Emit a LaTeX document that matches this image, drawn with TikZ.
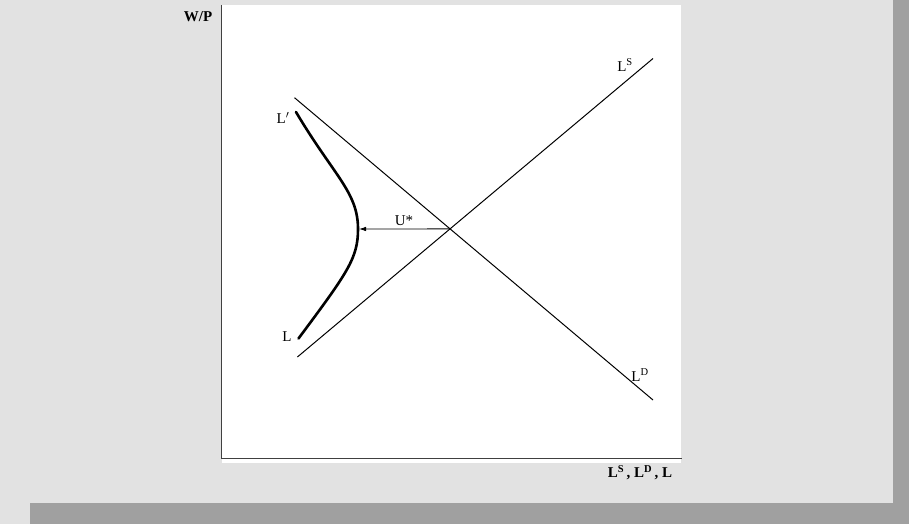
\documentclass[tikz,border=0pt]{standalone}
\usepackage{fontspec}
\setmainfont{Liberation Serif}
\usetikzlibrary{arrows.meta}
\definecolor{scangray}{HTML}{E2E2E2}
\definecolor{edgegray}{HTML}{A0A0A0}
\begin{document}
\begin{tikzpicture}[
  x=1pt, y=-1pt,
  thinline/.style={line width=1pt, black},
  boldline/.style={line width=2.6pt, black, line cap=round},
  axis/.style={line width=0.9pt, black!75},
  lbl/.style={font=\fontsize{15}{17}\selectfont, inner sep=1pt},
  axislbl/.style={font=\fontsize{15}{17}\selectfont\bfseries, inner sep=1pt},
]
\useasboundingbox (0,0) rectangle (909,524);

% scanned page and figure panel
\fill[scangray] (0,0) rectangle (909,524);
\fill[edgegray] (893,0) rectangle (909,524);
\fill[edgegray] (30,503) rectangle (909,524);
\fill[white] (222,5) rectangle (681,463);

% axes
\coordinate (ytop)   at (221,5);
\coordinate (origin) at (221,458);
\coordinate (xend)   at (682,458);
\draw[axis] (ytop) -- (origin) -- (xend);

% supply and demand
\coordinate (ls0) at (297.4,357);
\coordinate (ls1) at (653,58.5);
\coordinate (ld0) at (294.5,97.7);
\coordinate (ld1) at (653,400);
\draw[thinline] (ls0) -- (ls1);
\draw[thinline] (ld0) -- (ld1);
\coordinate (eq) at (intersection of ls0--ls1 and ld0--ld1);

% labour force curve
\coordinate (lp)  at (296,112);
\coordinate (vtx) at (358,229);
\coordinate (lb)  at (298.5,338.5);
\draw[boldline] (lp) .. controls (334,176) and (358,192) .. (vtx)
  .. controls (358,258) and (348,272) .. (lb);

\draw[thinline, line width=0.8pt, -{Latex[length=7pt,width=4.5pt]}, shorten >=1pt] (eq) -- (vtx);

% labels
\node[lbl] (wp)    at (198,17)  {\bfseries W/P};
\node[lbl] (lslbl) at (625,65)  {L\textsuperscript{S}};
\node[lbl] (ldlbl) at (640,375) {L\textsuperscript{D}};
\node[lbl] (lplbl) at (283,118) {L$'$};
\node[lbl] (llbl)  at (287,337) {L};
\node[lbl] (ustar) at (404,221) {U*};
\node[axislbl] (xlbl) at (640,473) {L\textsuperscript{S}\,, L\textsuperscript{D}\,, L};

\end{tikzpicture}
\end{document}
